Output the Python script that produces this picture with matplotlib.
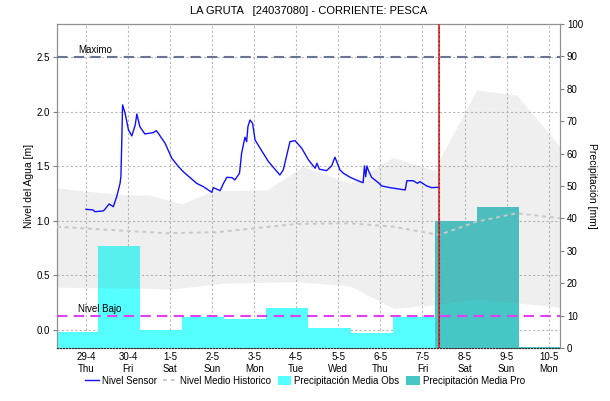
import matplotlib.pyplot as plt
import numpy as np

plt.rcParams['font.family'] = ['Liberation Sans', 'DejaVu Sans']

# days counted from the 29-4 tick
day_labels = ['29-4\nThu', '30-4\nFri', '1-5\nSat', '2-5\nSun', '3-5\nMon', '4-5\nTue',
              '5-5\nWed', '6-5\nThu', '7-5\nFri', '8-5\nSat', '9-5\nSun', '10-5\nMon']

# sensor level [m]
sensor_t = [0.00, 0.17, 0.21, 0.41, 0.45, 0.55, 0.65, 0.73, 0.81, 0.83, 0.85, 0.87, 0.93,
            1.01, 1.09, 1.17, 1.21, 1.28, 1.40, 1.60, 1.67, 1.72, 1.88, 2.04, 2.20, 2.31,
            2.63, 2.79, 2.99, 3.03, 3.19, 3.27, 3.35, 3.47, 3.54, 3.65, 3.70, 3.78, 3.82,
            3.85, 3.90, 3.96, 4.02, 4.14, 4.34, 4.61, 4.69, 4.85, 4.97, 5.13, 5.29, 5.45,
            5.49, 5.55, 5.72, 5.84, 5.92, 6.04, 6.12, 6.28, 6.52, 6.59, 6.62, 6.65, 6.68,
            6.71, 6.79, 6.95, 7.03, 7.23, 7.47, 7.59, 7.63, 7.78, 7.88, 7.94, 8.10, 8.22, 8.38]
sensor_v = [1.105, 1.099, 1.083, 1.090, 1.105, 1.154, 1.129, 1.221, 1.343, 1.404, 1.710,
            2.061, 1.985, 1.832, 1.777, 1.877, 1.978, 1.862, 1.795, 1.807, 1.825, 1.801,
            1.710, 1.572, 1.496, 1.450, 1.343, 1.312, 1.261, 1.303, 1.276, 1.343, 1.398,
            1.395, 1.374, 1.435, 1.618, 1.765, 1.724, 1.862, 1.923, 1.893, 1.740, 1.664,
            1.541, 1.419, 1.465, 1.724, 1.734, 1.664, 1.557, 1.481, 1.527, 1.472, 1.459,
            1.502, 1.582, 1.465, 1.435, 1.398, 1.358, 1.349, 1.502, 1.404, 1.502, 1.465,
            1.398, 1.349, 1.319, 1.303, 1.289, 1.282, 1.367, 1.367, 1.343, 1.358, 1.319,
            1.303, 1.307]

# historic band [m]
hist_hi_t = [-0.69, -0.07, 1.05, 1.52, 2.28, 3.02, 4.30, 5.16, 6.28, 7.30, 8.38, 8.40,
             9.29, 10.24, 11.27]
hist_hi_v = [1.303, 1.273, 1.236, 1.236, 1.154, 1.276, 1.282, 1.496, 1.343, 1.581, 1.450,
             1.557, 2.198, 2.152, 1.679]
hist_lo_t = [-0.69, 1.52, 2.00, 3.26, 5.01, 6.28, 7.30, 8.25, 9.27, 10.32, 11.27]
hist_lo_v = [0.391, 0.382, 0.373, 0.428, 0.442, 0.403, 0.199, 0.229, 0.281, 0.245, 0.208]

# mean historic level [m]
medio_t = [-0.69, -0.07, 1.92, 3.11, 5.01, 6.28, 7.30, 8.25, 8.39, 9.29, 10.24, 11.27]
medio_v = [0.946, 0.931, 0.886, 0.895, 0.971, 0.977, 0.946, 0.880, 0.870, 0.992, 1.069, 1.023]

# daily precipitation [mm]
obs_mm = [5.0, 31.5, 5.5, 9.7, 9.0, 12.2, 6.3, 4.5, 9.7]
pro_mm = [39.2, 43.5, 0.4]

nivel_max = 2.5
nivel_bajo = 0.128
ahora = 8.39

fig = plt.figure(figsize=(6.10, 4.01), dpi=100)
ax = fig.add_axes([0.0934, 0.1322, 0.8246, 0.8080])
ax2 = ax.twinx()
ax.set_zorder(ax2.get_zorder() + 1)
ax.patch.set_visible(False)

ax.set_xlim(-0.69, 11.27)
ax.set_ylim(-0.165, 2.802)
ax2.set_ylim(0, 100)

ax.set_axisbelow(True)
ax.grid(True, color='#b8b8b8', linestyle=(0, (2, 2)), linewidth=0.8)

# bars live in mm, drawn with the right axis scale
obs_x = np.arange(len(obs_mm)) - 0.71
pro_x = np.arange(len(obs_mm), len(obs_mm) + len(pro_mm)) - 0.71
ax.bar(obs_x, obs_mm, width=1.0, align='edge', color='#55ffff', linewidth=0,
       transform=ax2.transData, zorder=1, label='Precipitación Media Obs')
ax.bar(pro_x, pro_mm, width=1.0, align='edge', color='#47c6c6', linewidth=0,
       transform=ax2.transData, zorder=1, label='Precipitación Media Pro')

# historic band drawn over the bars with a light grey wash
grid_t = np.union1d(hist_hi_t, hist_lo_t)
hi = np.interp(grid_t, hist_hi_t, hist_hi_v)
lo = np.interp(grid_t, hist_lo_t, hist_lo_v)
ax.fill_between(grid_t, lo, hi, color='#808080', alpha=0.12, linewidth=0, zorder=2)

ax.plot(medio_t, medio_v, color='#c8c8c8', linestyle=(0, (2, 2)), linewidth=1.4, zorder=3,
        label='Nivel Medio Historico')
ax.plot(sensor_t, sensor_v, color='#1010ff', linewidth=1.0, zorder=4, label='Nivel Sensor')

ax.axhline(nivel_max, color='#6a7596', linestyle=(0, (5, 3)), linewidth=1.5, zorder=3)
ax.axhline(nivel_bajo, color='#e040f0', linestyle=(0, (5, 3)), linewidth=1.5, zorder=3)
ax.text(-0.19, nivel_max + 0.02, 'Maximo', fontsize=7, va='bottom')
ax.text(-0.19, nivel_bajo + 0.015, 'Nivel Bajo', fontsize=7, va='bottom')

ax.axvline(ahora, color='#e02020', linewidth=1.2, zorder=5)
ax.axvline(ahora, color='#602020', linestyle=(0, (1, 3)), linewidth=0.8, zorder=6)

ax.set_xticks(np.arange(len(day_labels)))
ax.set_xticklabels(day_labels, fontsize=7, linespacing=1.25)
ax.tick_params(axis='x', length=0, pad=3)
ax.set_yticks([0.0, 0.5, 1.0, 1.5, 2.0, 2.5])
ax.set_yticklabels(['0.0', '0.5', '1.0', '1.5', '2.0', '2.5'])
ax.tick_params(axis='y', labelsize=7, length=3, color='#808080', pad=2)
ax2.set_yticks(np.arange(0, 101, 10))
ax2.tick_params(axis='y', labelsize=7, length=3, color='#808080', pad=2)

for a in (ax, ax2):
    for side in ('left', 'right', 'top'):
        a.spines[side].set_color('#909090')
    a.spines['bottom'].set_color('#303030')
    a.spines['bottom'].set_linestyle(':')

ax.set_ylabel('Nivel del Agua [m]', fontsize=7.5, labelpad=2)
ax2.set_ylabel('Precipitación [mm]', fontsize=7.5, rotation=270, labelpad=10)
ax.set_title('LA GRUTA   [24037080] - CORRIENTE: PESCA', fontsize=8, pad=7)

handles, labels = ax.get_legend_handles_labels()
order = ['Nivel Sensor', 'Nivel Medio Historico', 'Precipitación Media Obs',
         'Precipitación Media Pro']
hmap = dict(zip(labels, handles))
fig.legend([hmap[k] for k in order], order, loc='center', bbox_to_anchor=(0.5, 0.05),
           ncol=4, frameon=False, fontsize=7, handlelength=1.4, handletextpad=0.3,
           columnspacing=0.7, handleheight=1.0)

fig.savefig('out.png', dpi=100)
